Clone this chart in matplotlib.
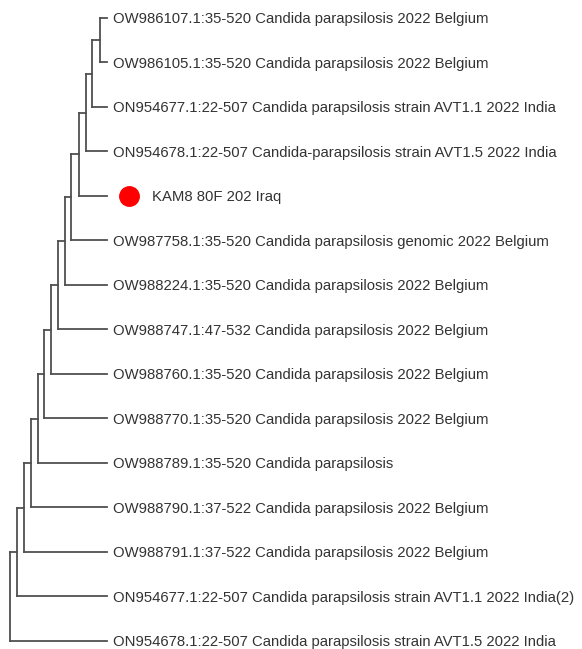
import matplotlib
matplotlib.use('Agg')

import matplotlib.pyplot as plt

# Hojas del árbol, de arriba a abajo
etiquetas = [
    'OW986107.1:35-520 Candida parapsilosis 2022 Belgium',
    'OW986105.1:35-520 Candida parapsilosis 2022 Belgium',
    'ON954677.1:22-507 Candida parapsilosis strain AVT1.1 2022 India',
    'ON954678.1:22-507 Candida-parapsilosis strain AVT1.5 2022 India',
    'KAM8 80F 202 Iraq',
    'OW987758.1:35-520 Candida parapsilosis genomic 2022 Belgium',
    'OW988224.1:35-520 Candida parapsilosis 2022 Belgium',
    'OW988747.1:47-532 Candida parapsilosis 2022 Belgium',
    'OW988760.1:35-520 Candida parapsilosis 2022 Belgium',
    'OW988770.1:35-520 Candida parapsilosis 2022 Belgium',
    'OW988789.1:35-520 Candida parapsilosis',
    'OW988790.1:37-522 Candida parapsilosis 2022 Belgium',
    'OW988791.1:37-522 Candida parapsilosis 2022 Belgium',
    'ON954677.1:22-507 Candida parapsilosis strain AVT1.1 2022 India(2)',
    'ON954678.1:22-507 Candida parapsilosis strain AVT1.5 2022 India',
]
muestra = 'KAM8 80F 202 Iraq'

# Profundidad de los nodos internos (árbol en escalera), del más interno a la raíz
prof_nodos = [90, 82, 76, 69, 61, 55, 48, 41, 34, 28, 21, 14, 7, 0]
prof_hojas = 97

# Construir el árbol anidado: (profundidad, [hijos]); hoja = (profundidad, indice)
arbol = (prof_nodos[0], [(prof_hojas, 0), (prof_hojas, 1)])
for k, d in enumerate(prof_nodos[1:]):
    arbol = (d, [arbol, (prof_hojas, k + 2)])

color_linea = '#505050'
color_texto = '#333333'

fig = plt.figure(figsize=(5.82, 6.49), dpi=100)
ax = fig.add_axes([0, 0, 1, 1])


def dibujar(nodo):
    d, hijos = nodo
    if not isinstance(hijos, list):
        return float(hijos)
    ys = []
    for h in hijos:
        y_h = dibujar(h)
        ax.plot([d, h[0]], [y_h, y_h], color=color_linea, lw=1.3,
                solid_capstyle='projecting')
        ys.append(y_h)
    ax.plot([d, d], [min(ys), max(ys)], color=color_linea, lw=1.3,
            solid_capstyle='projecting')
    return (min(ys) + max(ys)) / 2


dibujar(arbol)

for i, texto in enumerate(etiquetas):
    if texto == muestra:
        ax.plot(prof_hojas + 22, i, 'o', color='#ff0000', markersize=14)
        x_txt = prof_hojas + 45
    else:
        x_txt = prof_hojas + 6
    ax.text(x_txt, i, texto, va='center_baseline', ha='left', fontsize=10.7,
            family=['Liberation Sans', 'DejaVu Sans'], color=color_texto)

paso = 44.5
ax.set_xlim(-10, 572)
ax.set_ylim((649 - 18) / paso, -18 / paso)
ax.axis('off')

fig.savefig('out.png', dpi=100)
